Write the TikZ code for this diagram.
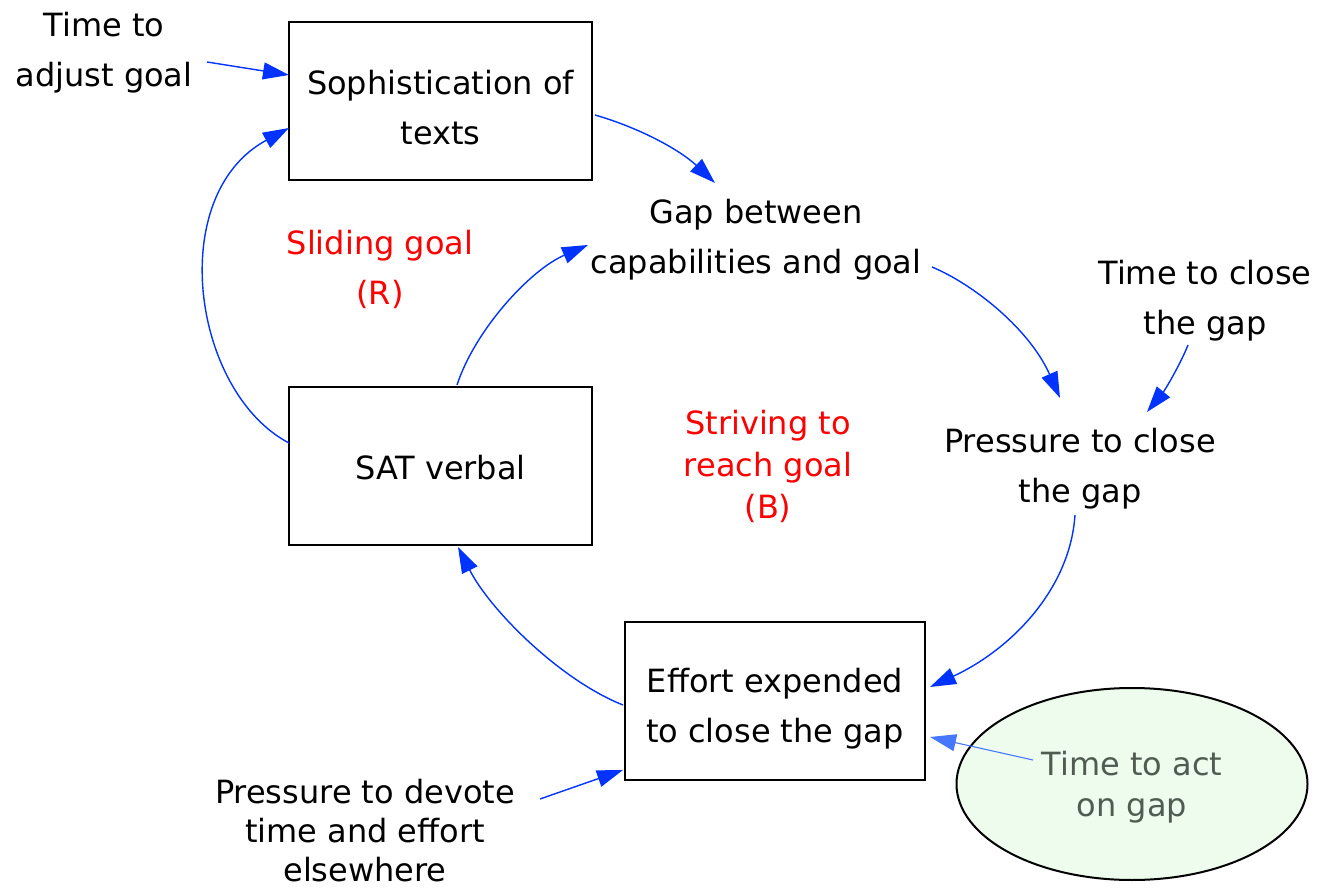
\documentclass[tikz,border=0pt]{standalone}
\usepackage{fontspec}
\setmainfont{DejaVu Sans}
\usetikzlibrary{arrows.meta,shapes.geometric}
\definecolor{linkblue}{RGB}{0,51,255}
\definecolor{softblue}{RGB}{70,120,255}
\definecolor{loopred}{RGB}{255,0,0}
\definecolor{palegreen}{RGB}{238,252,238}
\definecolor{greytext}{RGB}{80,92,80}
\begin{document}
\begin{tikzpicture}[x=1pt,y=-1pt,
  every node/.style={font=\fontsize{32}{50}\selectfont, align=center},
  tight/.style={font=\fontsize{32}{42}\selectfont},
  stock/.style={draw=black, line width=2pt, minimum width=303pt, minimum height=158pt, inner sep=0pt},
  label/.style={inner sep=2pt},
  looplabel/.style={text=loopred},
  link/.style={draw=linkblue, line width=1.4pt, -{Triangle[length=26pt,width=17pt]}},
  softlink/.style={draw=softblue, line width=1.1pt, -{Triangle[length=26pt,width=17pt]}}
]
\useasboundingbox (0,0) rectangle (1318,890);

% stocks (boxes first, their texts set slightly low)
\node[stock] (soph) at (440.5,101.5) {};
\node[stock] (sat) at (440.5,466) {};
\node[stock, minimum width=300pt] (effort) at (775,701) {};
\path (soph) ++(0,6) node (sophtext) {Sophistication of\\texts};
\path (sat) ++(0,2) node (sattext) {SAT verbal};
\path (effort) ++(0,8) node (efforttext) {Effort expended\\to close the gap};

% auxiliaries and constants
\node[label] (adjust) at (104,53) {Time to\\adjust goal};
\node[label] (gap) at (756,240) {Gap between\\capabilities and goal};
\node[label] (closetime) at (1205,301) {Time to close\\the gap};
\node[label] (pressure) at (1080,469) {Pressure to close\\the gap};
\node[inner sep=0pt, font=\fontsize{32}{39}\selectfont] (elsewhere) at (365,831) {Pressure to devote\\time and effort\\elsewhere};
\node[draw=black, line width=2pt, fill=palegreen, ellipse, minimum width=351pt, minimum height=192pt] (acttime) at (1132,784) {};
\path (acttime) ++(0,3) node[text=greytext, font=\fontsize{32}{41}\selectfont] (acttext) {Time to act\\on gap};

% loop labels
\node[looplabel] (sliding) at (380,269) {Sliding goal\\(R)};
\node[looplabel, tight] (striving) at (768,466) {Striving to\\reach goal\\(B)};

% connection points
\coordinate (adjustOut) at (207,62);
\coordinate (sophIn) at (289,75);
\coordinate (sophOut) at (595,115);
\coordinate (gapInA) at (715,183);
\coordinate (satOutA) at (289,443);
\coordinate (sophInB) at (289,128);
\coordinate (satOutB) at (457,385);
\coordinate (gapInB) at (588,245);
\coordinate (gapOut) at (932,267);
\coordinate (pressInA) at (1060,398);
\coordinate (closeOut) at (1188,345);
\coordinate (pressInB) at (1147,412);
\coordinate (pressOut) at (1075,515);
\coordinate (effortInA) at (930,687);
\coordinate (effortOut) at (623,705);
\coordinate (satIn) at (458,547);
\coordinate (elseOut) at (540,799);
\coordinate (effortInB) at (623,770);
\coordinate (actOut) at (1033,760);
\coordinate (effortInC) at (930,737);

% links
\draw[link] (adjustOut) -- (sophIn);
\draw[link] (sophOut) .. controls (640,128) and (680,150) .. (gapInA);
\draw[link] (satOutA) .. controls (192,392) and (165,195) .. (sophInB);
\draw[link] (satOutB) .. controls (475,330) and (530,270) .. (gapInB);
\draw[link] (gapOut) .. controls (975,285) and (1030,330) .. (pressInA);
\draw[link] (closeOut) .. controls (1180,365) and (1165,390) .. (pressInB);
\draw[link] (pressOut) .. controls (1070,590) and (1010,650) .. (effortInA);
\draw[link] (effortOut) .. controls (560,680) and (490,610) .. (satIn);
\draw[link] (elseOut) -- (effortInB);
\draw[softlink] (actOut) -- (effortInC);
\end{tikzpicture}
\end{document}
